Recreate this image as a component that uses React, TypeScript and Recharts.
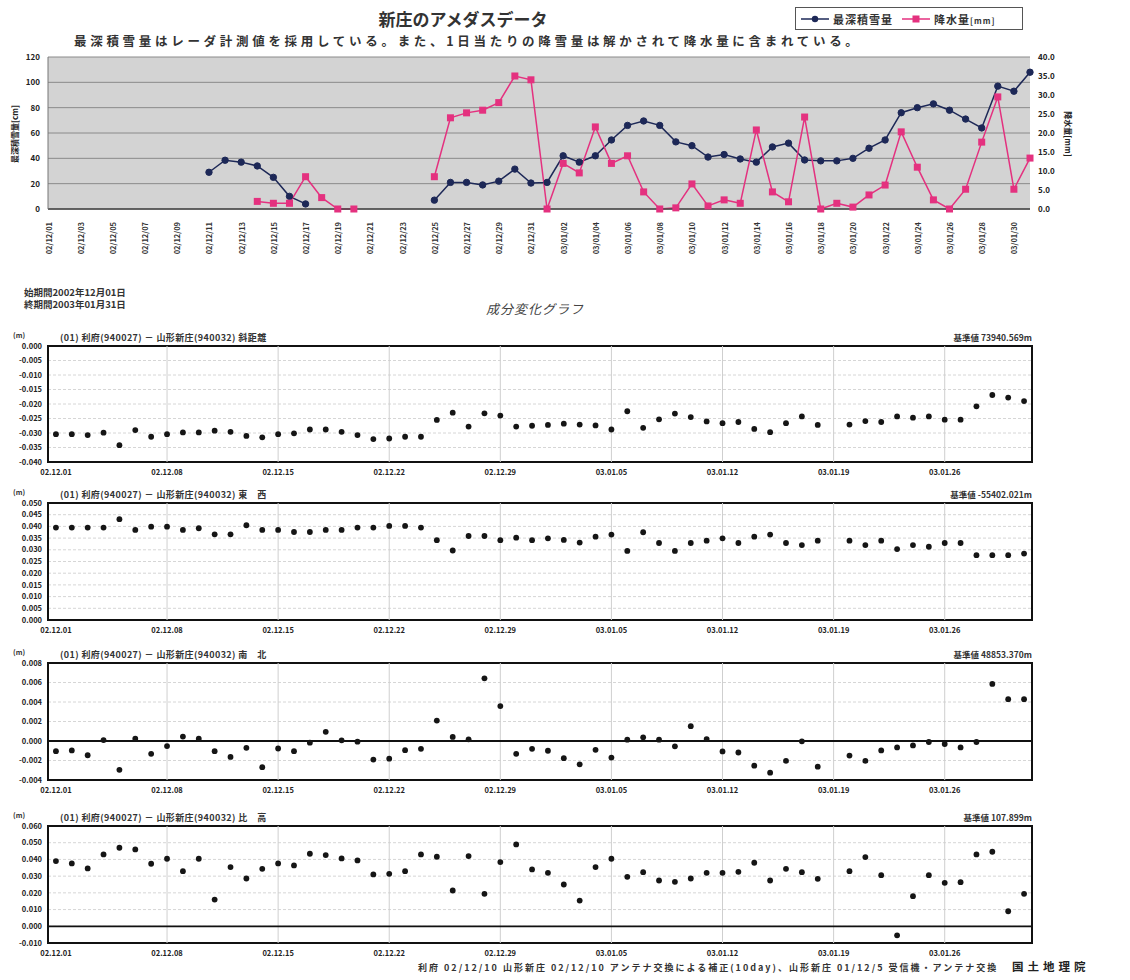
import React from "react";
import {
  ComposedChart,
  Line,
  XAxis,
  YAxis,
  CartesianGrid,
  ScatterChart,
  Scatter,
  ReferenceLine,
  ReferenceArea,
} from "recharts";

const FONT = '"Noto Sans CJK JP", "Noto Sans", sans-serif';

// ---------- categories ----------
const days = [
  "02.12.01", "02.12.02", "02.12.03", "02.12.04", "02.12.05", "02.12.06", "02.12.07", "02.12.08",
  "02.12.09", "02.12.10", "02.12.11", "02.12.12", "02.12.13", "02.12.14", "02.12.15", "02.12.16",
  "02.12.17", "02.12.18", "02.12.19", "02.12.20", "02.12.21", "02.12.22", "02.12.23", "02.12.24",
  "02.12.25", "02.12.26", "02.12.27", "02.12.28", "02.12.29", "02.12.30", "02.12.31",
  "03.01.01", "03.01.02", "03.01.03", "03.01.04", "03.01.05", "03.01.06", "03.01.07", "03.01.08",
  "03.01.09", "03.01.10", "03.01.11", "03.01.12", "03.01.13", "03.01.14", "03.01.15", "03.01.16",
  "03.01.17", "03.01.18", "03.01.19", "03.01.20", "03.01.21", "03.01.22", "03.01.23", "03.01.24",
  "03.01.25", "03.01.26", "03.01.27", "03.01.28", "03.01.29", "03.01.30", "03.01.31",
];

// ---------- AMeDAS series ----------
const snowDepth: (number | null)[] = [
  null, null, null, null, null, null, null, null, null, null,
  29, 38.5, 37, 34, 25, 10, 4,
  null, null, null, null, null, null, null,
  7, 21, 21, 19, 22, 31.5, 20.5, 21,
  42, 37, 42, 54.5, 66, 69.5, 66, 53, 50, 41,
  43, 39.5, 37, 49, 52, 38.7, 38, 38, 40, 48,
  54.5, 76, 80, 83, 78, 71, 64, 97, 93, 108,
];
const precipitation: (number | null)[] = [
  null, null, null, null, null, null, null, null, null, null, null, null, null,
  2, 1.5, 1.5, 8.5, 3, 0, 0,
  null, null, null, null,
  8.5, 24, 25.3, 26, 28, 35, 34,
  0, 12, 9.5, 21.6, 12, 14, 4.5, 0, 0.3, 6.6,
  0.8, 2.4, 1.5, 20.8, 4.5, 1.9, 24.2, 0, 1.5, 0.5,
  3.7, 6.3, 20.3, 11, 2.4, 0, 5.2, 17.6, 29.5, 5.2, 13.4,
];
const snowTicks = [0, 20, 40, 60, 80, 100, 120];
const precipTicks = [0, 5, 10, 15, 20, 25, 30, 35, 40];

// ---------- GPS component series (m) ----------
const slopeDistance: (number | null)[] = [
  -0.0304, -0.0304, -0.0307, -0.0299, -0.0342, -0.029, -0.0313, -0.0304, -0.0298, -0.0298,
  -0.0292, -0.0296, -0.031, -0.0315, -0.0304, -0.0301, -0.0288, -0.0288, -0.0296, -0.0307,
  -0.0321, -0.0319, -0.0313, -0.0313, -0.0255, -0.023, -0.0278, -0.0232, -0.024, -0.0278, -0.0275,
  -0.0272, -0.0268, -0.0271, -0.0274, -0.0288, -0.0225, -0.0282, -0.0253, -0.0233, -0.0245,
  -0.026, -0.0266, -0.0262, -0.0286, -0.0297, -0.0266, -0.0243, -0.0272, null,
  -0.0271, -0.0259, -0.0262, -0.0243, -0.0247, -0.0243, -0.0254, -0.0254, -0.0208, -0.0169, -0.0178, -0.019,
];
const eastWest: (number | null)[] = [
  0.0395, 0.0395, 0.0395, 0.0395, 0.0431, 0.0385, 0.0399, 0.0399, 0.0385, 0.0392,
  0.0366, 0.0366, 0.0405, 0.0385, 0.0385, 0.0376, 0.0376, 0.0385, 0.0385, 0.0395,
  0.0395, 0.0402, 0.0402, 0.0395, 0.0341, 0.0297, 0.0359, 0.0359, 0.0341, 0.0352, 0.0341,
  0.0349, 0.0342, 0.0331, 0.0356, 0.0365, 0.0295, 0.0375, 0.0329, 0.0295, 0.0329,
  0.0339, 0.0349, 0.0329, 0.0356, 0.0365, 0.0329, 0.032, 0.0339, null,
  0.0339, 0.032, 0.0339, 0.0303, 0.032, 0.0313, 0.0329, 0.0329, 0.0277, 0.0277, 0.0277, 0.0284,
];
const northSouth: (number | null)[] = [
  -0.00104, -0.00097, -0.00146, 0.0001, -0.00296, 0.00024, -0.00132, -0.00052, 0.00045, 0.00024,
  -0.00104, -0.00163, -0.0007, -0.00268, -0.00077, -0.00104, -0.00017, 0.00094, 0.00007, -0.00007,
  -0.00191, -0.00181, -0.00094, -0.0008, 0.00209, 0.00042, 0.00017, 0.00643, 0.00358, -0.00132, -0.0008,
  -0.001, -0.00176, -0.00239, -0.0009, -0.0017, 0.00014, 0.00038, 0.00014, -0.00055, 0.00152,
  0.0002, -0.00107, -0.00118, -0.00253, -0.00325, -0.00204, -0.00003, -0.00263, null,
  -0.00149, -0.00204, -0.00097, -0.00066, -0.00045, -0.0001, -0.00031, -0.00066, -0.0001, 0.00585, 0.00429, 0.00429,
];
const upDown: (number | null)[] = [
  0.039, 0.0376, 0.0346, 0.043, 0.047, 0.046, 0.0374, 0.0404, 0.033, 0.0404,
  0.016, 0.0354, 0.0286, 0.0344, 0.0376, 0.0364, 0.0434, 0.0426, 0.0406, 0.0394,
  0.031, 0.0314, 0.033, 0.043, 0.0416, 0.0214, 0.042, 0.0194, 0.0384, 0.049, 0.034,
  0.032, 0.025, 0.0154, 0.0354, 0.0404, 0.0296, 0.0324, 0.0274, 0.0266, 0.0286,
  0.032, 0.032, 0.0326, 0.038, 0.0274, 0.0344, 0.0324, 0.0284, null,
  0.033, 0.0414, 0.0306, -0.0054, 0.018, 0.0306, 0.026, 0.0264, 0.043, 0.0446, 0.009, 0.0194,
];

const slopeTicks = [-0.04, -0.035, -0.03, -0.025, -0.02, -0.015, -0.01, -0.005, 0];
const eastWestTicks = [0, 0.005, 0.01, 0.015, 0.02, 0.025, 0.03, 0.035, 0.04, 0.045, 0.05];
const northSouthTicks = [-0.004, -0.002, 0, 0.002, 0.004, 0.006, 0.008];
const upDownTicks = [-0.01, 0, 0.01, 0.02, 0.03, 0.04, 0.05, 0.06];
const panelTickLabels = [
  "02.12.01", "02.12.08", "02.12.15", "02.12.22", "02.12.29",
  "03.01.05", "03.01.12", "03.01.19", "03.01.26",
];

const panelTitles = [
  "(01) 利府(940027) － 山形新庄(940032) 斜距離",
  "(01) 利府(940027) － 山形新庄(940032) 東　西",
  "(01) 利府(940027) － 山形新庄(940032) 南　北",
  "(01) 利府(940027) － 山形新庄(940032) 比　高",
];
const baseValues = ["基準値 73940.569m", "基準値 -55402.021m", "基準値 48853.370m", "基準値 107.899m"];

const panels = [
  { title: panelTitles[0], base: baseValues[0], values: slopeDistance, ticks: slopeTicks, zero: false, top: 346, bottom: 462 },
  { title: panelTitles[1], base: baseValues[1], values: eastWest, ticks: eastWestTicks, zero: false, top: 503, bottom: 620 },
  { title: panelTitles[2], base: baseValues[2], values: northSouth, ticks: northSouthTicks, zero: true, top: 663, bottom: 780 },
  { title: panelTitles[3], base: baseValues[3], values: upDown, ticks: upDownTicks, zero: true, top: 826, bottom: 943 },
];

const BLUE = "#1d2857";
const PINK = "#e4317f";

const SnowDot = (p: any) => {
  const k = `s${p.index}`;
  if (p.value == null || p.cy == null || isNaN(p.cy)) return <g key={k} />;
  return <circle key={k} cx={p.cx} cy={p.cy} r={3.2} fill={BLUE} stroke={BLUE} />;
};
const PrecipDot = (p: any) => {
  const k = `p${p.index}`;
  if (p.value == null || p.cy == null || isNaN(p.cy)) return <g key={k} />;
  return <rect key={k} x={p.cx - 3.5} y={p.cy - 3.5} width={7} height={7} fill={PINK} />;
};

const VTick = (p: any) => {
  const { x, y, payload } = p;
  const yy = y + 5;
  return (
    <text
      x={x}
      y={yy}
      transform={`rotate(-90 ${x} ${yy})`}
      textAnchor="end"
      dominantBaseline="central"
      fontSize={7.5}
      fontWeight={700}
      fill="#333"
      fontFamily={FONT}
    >
      {String(payload.value).replace(/\./g, "/")}
    </text>
  );
};

const PointShape = (p: any) => <circle cx={p.cx} cy={p.cy} r={2.9} fill="#151515" />;

const tickStyle = { fontSize: 7.5, fill: "#222", fontWeight: 700, fontFamily: FONT };

function Panel({ cfg }: { cfg: any }) {
  const padTop = 10;
  const axisH = 22;
  const h = cfg.bottom - cfg.top + padTop + axisH;
  const data = (cfg.values as (number | null)[])
    .map((v, i) => ({ x: i, y: v }))
    .filter((p) => p.y !== null);
  const tickIdx = panelTickLabels.map((l) => days.indexOf(l));
  const yDom = [cfg.ticks[0], cfg.ticks[cfg.ticks.length - 1]];
  const xDom = [-0.5, days.length - 0.5];
  return (
    <>
      <div
        style={{
          position: "absolute",
          left: 13,
          top: cfg.top - 16,
          fontSize: 7,
          fontWeight: 700,
          color: "#333",
          fontFamily: FONT,
        }}
      >
        (m)
      </div>
      <div
        style={{
          position: "absolute",
          left: 60,
          top: cfg.top - 15,
          fontSize: 9,
          fontWeight: 700,
          color: "#333",
          fontFamily: FONT,
          whiteSpace: "nowrap",
          letterSpacing: 0.4,
        }}
      >
        {cfg.title}
      </div>
      <div
        style={{
          position: "absolute",
          right: 1130 - 1032,
          top: cfg.top - 15,
          fontSize: 8.5,
          fontWeight: 700,
          color: "#333",
          fontFamily: FONT,
          whiteSpace: "nowrap",
        }}
      >
        {cfg.base}
      </div>
      <div style={{ position: "absolute", left: 0, top: cfg.top - padTop }}>
        <ScatterChart width={1130} height={h} margin={{ top: padTop, right: 98, bottom: 0, left: 0 }}>
          <CartesianGrid vertical={false} stroke="#d6d6d6" strokeDasharray="3 2" />
          {tickIdx.slice(1).map((t) => (
            <ReferenceLine key={`v${t}`} x={t} stroke="#cfcfcf" strokeWidth={1} />
          ))}
          {cfg.zero && <ReferenceLine y={0} stroke="#111" strokeWidth={1.8} />}
          <XAxis
            type="number"
            dataKey="x"
            domain={xDom}
            ticks={tickIdx}
            interval={0}
            tickFormatter={(i: number) => days[i]}
            height={axisH}
            tick={tickStyle}
            tickLine={false}
            axisLine={false}
            allowDataOverflow
          />
          <YAxis
            type="number"
            dataKey="y"
            domain={yDom}
            ticks={cfg.ticks}
            interval={0}
            width={48}
            tickFormatter={(v: number) => v.toFixed(3)}
            tick={tickStyle}
            tickLine={false}
            axisLine={false}
            tickSize={4}
            allowDataOverflow
          />
          <ReferenceArea
            x1={xDom[0]}
            x2={xDom[1]}
            y1={yDom[0]}
            y2={yDom[1]}
            fill="none"
            fillOpacity={0}
            stroke="#111"
            strokeWidth={2}
          />
          <Scatter data={data} shape={PointShape} isAnimationActive={false} />
        </ScatterChart>
      </div>
    </>
  );
}

export default function App() {
  const topData = days.map((d, i) => ({ date: d, snow: snowDepth[i], precip: precipitation[i] }));
  return (
    <div
      style={{
        position: "absolute",
        left: 0,
        top: 0,
        width: 1130,
        height: 980,
        background: "#fff",
        fontFamily: FONT,
        overflow: "hidden",
      }}
    >
      {/* ---------- top: AMeDAS ---------- */}
      <div
        style={{
          position: "absolute",
          left: 0,
          width: 926,
          top: 6,
          textAlign: "center",
          fontSize: 17,
          fontWeight: 700,
          color: "#333",
          whiteSpace: "nowrap",
        }}
      >
        新庄のアメダスデータ
      </div>
      <div
        style={{
          position: "absolute",
          left: 74,
          top: 31,
          fontSize: 12.5,
          fontWeight: 700,
          letterSpacing: 3.7,
          color: "#333",
          whiteSpace: "nowrap",
        }}
      >
        最深積雪量はレーダ計測値を採用している。また、1日当たりの降雪量は解かされて降水量に含まれている。
      </div>
      <div
        style={{
          position: "absolute",
          left: 795,
          top: 7,
          width: 226,
          height: 21,
          border: "1px solid #555",
          background: "#fff",
          display: "flex",
          alignItems: "center",
          fontSize: 11,
          fontWeight: 700,
          color: "#333",
          whiteSpace: "nowrap",
        }}
      >
        <svg width={30} height={12} style={{ marginLeft: 4 }}>
          <line x1={1} y1={6} x2={29} y2={6} stroke={BLUE} strokeWidth={1.5} />
          <circle cx={15} cy={6} r={3.2} fill={BLUE} />
        </svg>
        <span style={{ marginLeft: 3, letterSpacing: 1 }}>最深積雪量</span>
        <svg width={30} height={12} style={{ marginLeft: 8 }}>
          <line x1={1} y1={6} x2={29} y2={6} stroke={PINK} strokeWidth={1.5} />
          <rect x={11.5} y={2.5} width={7} height={7} fill={PINK} />
        </svg>
        <span style={{ marginLeft: 3, letterSpacing: 1 }}>
          降水量<span style={{ fontSize: 8 }}>[mm]</span>
        </span>
      </div>
      <div
        style={{
          position: "absolute",
          left: 14,
          top: 134,
          transform: "translate(-50%, -50%) rotate(-90deg)",
          fontSize: 8,
          fontWeight: 700,
          color: "#222",
          whiteSpace: "nowrap",
        }}
      >
        最深積雪量[cm]
      </div>
      <div
        style={{
          position: "absolute",
          left: 1068,
          top: 134,
          transform: "translate(-50%, -50%) rotate(90deg)",
          fontSize: 8,
          fontWeight: 700,
          color: "#222",
          whiteSpace: "nowrap",
        }}
      >
        降水量[mm]
      </div>
      <div style={{ position: "absolute", left: 0, top: 0 }}>
        <ComposedChart
          width={1130}
          height={270}
          data={topData}
          margin={{ top: 57, right: 60, bottom: 8, left: 0 }}
        >
          <CartesianGrid yAxisId="l" vertical={false} fill="#d3d3d3" fillOpacity={1} stroke="#8a8a8a" />
          <XAxis
            dataKey="date"
            interval={1}
            height={53}
            tick={(p: any) => <VTick {...p} />}
            tickLine={false}
            axisLine={{ stroke: "#444", strokeWidth: 1.5 }}
          />
          <YAxis
            yAxisId="l"
            domain={[0, 120]}
            ticks={snowTicks}
            interval={0}
            width={48}
            tick={{ fontSize: 8, fill: "#222", fontWeight: 700, fontFamily: FONT }}
            tickLine={false}
            axisLine={{ stroke: "#777" }}
          />
          <YAxis
            yAxisId="r"
            orientation="right"
            domain={[0, 40]}
            ticks={precipTicks}
            interval={0}
            width={40}
            tickFormatter={(v: number) => v.toFixed(1)}
            tick={{ fontSize: 8, fill: "#222", fontWeight: 700, fontFamily: FONT }}
            tickLine={false}
            axisLine={false}
          />
          <Line
            yAxisId="l"
            dataKey="snow"
            stroke={BLUE}
            strokeWidth={1.5}
            dot={SnowDot}
            activeDot={false}
            connectNulls={false}
            isAnimationActive={false}
          />
          <Line
            yAxisId="r"
            dataKey="precip"
            stroke={PINK}
            strokeWidth={1.5}
            dot={PrecipDot}
            activeDot={false}
            connectNulls={false}
            isAnimationActive={false}
          />
        </ComposedChart>
      </div>

      {/* ---------- lower: component change ---------- */}
      <div
        style={{
          position: "absolute",
          left: 24,
          top: 286,
          fontSize: 9.5,
          fontWeight: 700,
          color: "#333",
          lineHeight: "12px",
          whiteSpace: "nowrap",
        }}
      >
        始期間2002年12月01日
        <br />
        終期間2003年01月31日
      </div>
      <div
        style={{
          position: "absolute",
          left: 0,
          width: 1070,
          top: 299,
          textAlign: "center",
          fontSize: 13,
          fontStyle: "italic",
          color: "#444",
          letterSpacing: 1,
          whiteSpace: "nowrap",
        }}
      >
        成分変化グラフ
      </div>

      {panels.map((cfg, i) => (
        <Panel key={i} cfg={cfg} />
      ))}

      <div
        style={{
          position: "absolute",
          left: 418,
          top: 961,
          fontSize: 9,
          fontWeight: 700,
          color: "#333",
          letterSpacing: 2,
          whiteSpace: "nowrap",
        }}
      >
        利府 02/12/10 山形新庄 02/12/10 アンテナ交換による補正(10day)、山形新庄 01/12/5 受信機・アンテナ交換
      </div>
      <div
        style={{
          position: "absolute",
          left: 1012,
          top: 958,
          fontSize: 11.5,
          fontWeight: 700,
          color: "#222",
          letterSpacing: 4,
          whiteSpace: "nowrap",
        }}
      >
        国土地理院
      </div>
    </div>
  );
}
